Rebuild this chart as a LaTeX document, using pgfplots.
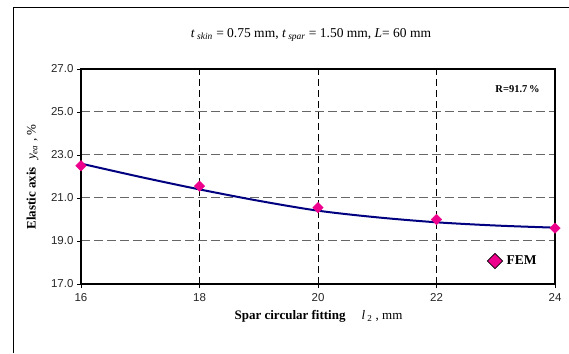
\documentclass[border=0pt]{standalone}
\usepackage{fontspec}
\setmainfont{Liberation Serif}
\setsansfont{Liberation Sans}
\usepackage{pgfplots}
\pgfplotsset{compat=1.18}
\definecolor{navyline}{RGB}{0,0,128}
\begin{document}
\begin{tikzpicture}[x=1pt,y=1pt]
\useasboundingbox (0,0) rectangle (569,353);
\draw[line width=1pt] (13.3,0) -- (13.3,345.7) -- (569,345.7);
\begin{axis}[
  at={(81pt,69pt)}, anchor=south west,
  scale only axis, width=474pt, height=215pt,
  xmin=16, xmax=24, ymin=17, ymax=27,
  xtick={16,18,...,24}, ytick={17,19,...,27},
  xtick pos=bottom, ytick pos=left,
  tick align=outside, major tick length=4pt,
  tick style={black, line width=0.8pt},
  axis line style={black, line width=1.5pt},
  xmajorgrids, ymajorgrids,
  x grid style={black, line width=0.7pt, dash pattern=on 7pt off 4pt},
  y grid style={gray!80!black, line width=1pt, dash pattern=on 9pt off 4pt},
  /pgf/number format/assume math mode=true,
  ticklabel style={font=\sffamily\fontsize{11.5}{13}\selectfont, text=black!85},
  y tick label style={/pgf/number format/.cd, fixed, fixed zerofill, precision=1},
  x tick label style={yshift=-2pt, /pgf/number format/.cd, fixed, precision=0},
  legend style={at={(0.857,0.107)}, anchor=west, draw=none, fill=none, inner sep=0pt,
    font=\bfseries\fontsize{13.5}{15}\selectfont},
  legend image code/.code={\draw[#1] plot coordinates {(0.25cm,0cm)};},
]
\addplot[navyline, line width=2pt, smooth, tension=0.5, forget plot] coordinates {
  (16,22.60) (17,21.98) (18,21.40) (19,20.87) (20,20.41) (21,20.10) (22,19.87) (23,19.72) (24,19.62)
};
\addplot[only marks, mark=square*, mark size=3.7pt,
  mark options={rotate=45, fill=magenta, draw=magenta}, forget plot] coordinates {
  (16,22.50) (18,21.55) (20,20.55) (22,20.00) (24,19.60)
};
\addlegendimage{only marks, mark=square*, mark size=5.4pt,
  mark options={rotate=45, fill=magenta, draw=black, line width=0.7pt}}
\addlegendentry{\hspace{2pt}FEM}
\node[anchor=east, font=\bfseries\fontsize{10.5}{12}\selectfont] at (rel axis cs:0.975,0.907) {R=91.7\,\%};
\end{axis}
\node[font=\fontsize{13.5}{15}\selectfont] at (311,318) {\textit{t}\,\textsubscript{\textit{skin}} = 0.75 mm, \textit{t}\,\textsubscript{\textit{spar}} = 1.50 mm, \textit{L}= 60 mm};
\node[font=\fontsize{13}{15}\selectfont] at (318.5,36.5) {\textbf{Spar circular fitting}\hspace{16pt}\textit{l}\,\textsubscript{2} , mm};
\node[font=\fontsize{13}{15}\selectfont, rotate=90] at (32.5,176) {\textbf{Elastic axis}\hspace{7pt}\textit{y}\textsubscript{\textit{ea}} , \%};
\end{tikzpicture}
\end{document}
